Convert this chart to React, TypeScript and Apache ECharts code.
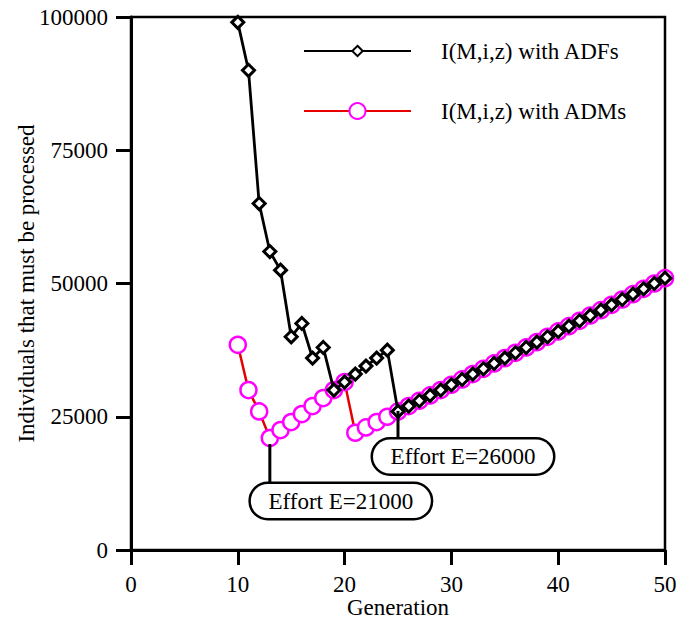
import React, { useEffect, useRef } from "react";
import * as echarts from "echarts";

const generations = [
  10, 11, 12, 13, 14, 15, 16, 17, 18, 19, 20, 21, 22, 23, 24, 25, 26, 27, 28, 29, 30,
  31, 32, 33, 34, 35, 36, 37, 38, 39, 40, 41, 42, 43, 44, 45, 46, 47, 48, 49, 50,
];
const adfValues = [
  99000, 90000, 65000, 56000, 52500, 40000, 42500, 36000, 38000, 30000, 31500, 33000,
  34500, 36000, 37500, 26000, 27000, 28000, 29000, 30000, 31000, 32000, 33000, 34000,
  35000, 36000, 37000, 38000, 39000, 40000, 41000, 42000, 43000, 44000, 45000, 46000,
  47000, 48000, 49000, 50000, 51000,
];
const admValues = [
  38500, 30000, 26000, 21000, 22500, 24000, 25500, 27000, 28500, 30000, 31500, 22000,
  23000, 24000, 25000, 26000, 27000, 28000, 29000, 30000, 31000, 32000, 33000, 34000,
  35000, 36000, 37000, 38000, 39000, 40000, 41000, 42000, 43000, 44000, 45000, 46000,
  47000, 48000, 49000, 50000, 51000,
];
const seriesNames = ["I(M,i,z) with ADFs", "I(M,i,z) with ADMs"];
const xTicks = { min: 0, max: 50, interval: 10 };
const yTicks = { min: 0, max: 100000, interval: 25000 };
const admBestGen = 13;
const adfBestGen = 25;

const FONT = "'Liberation Serif', 'Times New Roman', serif";
const FS = 23;

export default function App() {
  const ref = useRef<HTMLDivElement>(null);
  useEffect(() => {
    document.body.style.margin = "0";
    if (!ref.current) return;
    const chart = echarts.init(ref.current, undefined, { renderer: "svg" });
    const adfData = generations.map((g, i) => [g, adfValues[i]]);
    const admData = generations.map((g, i) => [g, admValues[i]]);
    const admBest = admValues[generations.indexOf(admBestGen)];
    const adfBest = adfValues[generations.indexOf(adfBestGen)];

    const boxLabel = {
      show: true,
      position: "inside",
      color: "#000",
      fontFamily: FONT,
      fontSize: FS,
      lineHeight: 24,
      backgroundColor: "#fff",
      borderColor: "#000",
      borderWidth: 2.5,
      borderRadius: 17,
      width: 180,
      align: "center",
      verticalAlign: "middle",
      padding: [5, 0, 5, 0],
    };

    const legendText = {
      fontFamily: FONT,
      fontSize: FS,
      lineHeight: 24,
      color: "#000",
      padding: [0, 0, 0, 25],
    };

    chart.setOption({
      animation: false,
      textStyle: { fontFamily: FONT },
      grid: {
        left: 131,
        right: 13,
        top: 17,
        bottom: 69,
        outerBoundsMode: "none",
        containLabel: false,
        show: true,
        borderColor: "#000",
        borderWidth: 2.5,
        backgroundColor: "transparent",
      },
      legend: [
        {
          data: [seriesNames[0]],
          left: 303,
          top: 39,
          padding: 0,
          itemWidth: 107,
          itemHeight: 13,
          textStyle: legendText,
          selectedMode: false,
        },
        {
          data: [seriesNames[1]],
          left: 303,
          top: 99,
          padding: 0,
          itemWidth: 107,
          itemHeight: 20,
          textStyle: legendText,
          selectedMode: false,
        },
      ],
      xAxis: {
        type: "value",
        min: xTicks.min,
        max: xTicks.max,
        interval: xTicks.interval,
        name: "Generation",
        nameLocation: "middle",
        nameGap: 46,
        nameMoveOverlap: false,
        nameTextStyle: { fontFamily: FONT, fontSize: FS, lineHeight: 22, color: "#000" },
        axisLine: { show: true, lineStyle: { color: "#000", width: 3 } },
        axisTick: { show: true, length: 15, lineStyle: { color: "#000", width: 3 } },
        axisLabel: { fontFamily: FONT, fontSize: FS, color: "#000", margin: 23 },
        splitLine: { show: false },
      },
      yAxis: {
        type: "value",
        min: yTicks.min,
        max: yTicks.max,
        interval: yTicks.interval,
        name: "Individuals that must be processed",
        nameLocation: "middle",
        nameGap: 93,
        nameMoveOverlap: false,
        nameTextStyle: { fontFamily: FONT, fontSize: FS, color: "#000" },
        axisLine: { show: true, lineStyle: { color: "#000", width: 3 } },
        axisTick: { show: true, length: 15, lineStyle: { color: "#000", width: 3 } },
        axisLabel: {
          fontFamily: FONT,
          fontSize: FS,
          color: "#000",
          margin: 23,
          formatter: (v: number) => String(v),
        },
        splitLine: { show: false },
      },
      series: [
        {
          name: seriesNames[1],
          type: "line",
          data: admData,
          symbol: "circle",
          symbolSize: 16,
          showAllSymbol: true,
          lineStyle: { color: "#e60000", width: 2.5 },
          itemStyle: { color: "#fff", borderColor: "#ff00ff", borderWidth: 2.5 },
          z: 2,
        },
        {
          name: seriesNames[0],
          type: "line",
          data: adfData,
          symbol: "diamond",
          symbolSize: 12,
          showAllSymbol: true,
          lineStyle: { color: "#000", width: 2.8 },
          itemStyle: { color: "#fff", borderColor: "#000", borderWidth: 3 },
          z: 3,
          markPoint: {
            silent: true,
            data: [
              {
                coord: [admBestGen, admBest],
                symbol: "rect",
                symbolSize: [3, 40],
                symbolOffset: [0, 26],
                itemStyle: { color: "#000" },
                label: { show: false },
              },
              {
                coord: [adfBestGen, adfBest],
                symbol: "rect",
                symbolSize: [3, 29],
                symbolOffset: [0, 14],
                itemStyle: { color: "#000" },
                label: { show: false },
              },
              {
                coord: [admBestGen, admBest],
                symbol: "rect",
                symbolSize: [1, 1],
                itemStyle: { color: "rgba(0,0,0,0)" },
                label: { ...boxLabel, offset: [71, 63], formatter: "Effort E=" + admBest },
              },
              {
                coord: [adfBestGen, adfBest],
                symbol: "rect",
                symbolSize: [1, 1],
                itemStyle: { color: "rgba(0,0,0,0)" },
                label: { ...boxLabel, offset: [65, 45], formatter: "Effort E=" + adfBest },
              },
            ],
          },
        },
      ],
    });
    return () => chart.dispose();
  }, []);
  return <div ref={ref} style={{ width: 678, height: 619 }} />;
}
